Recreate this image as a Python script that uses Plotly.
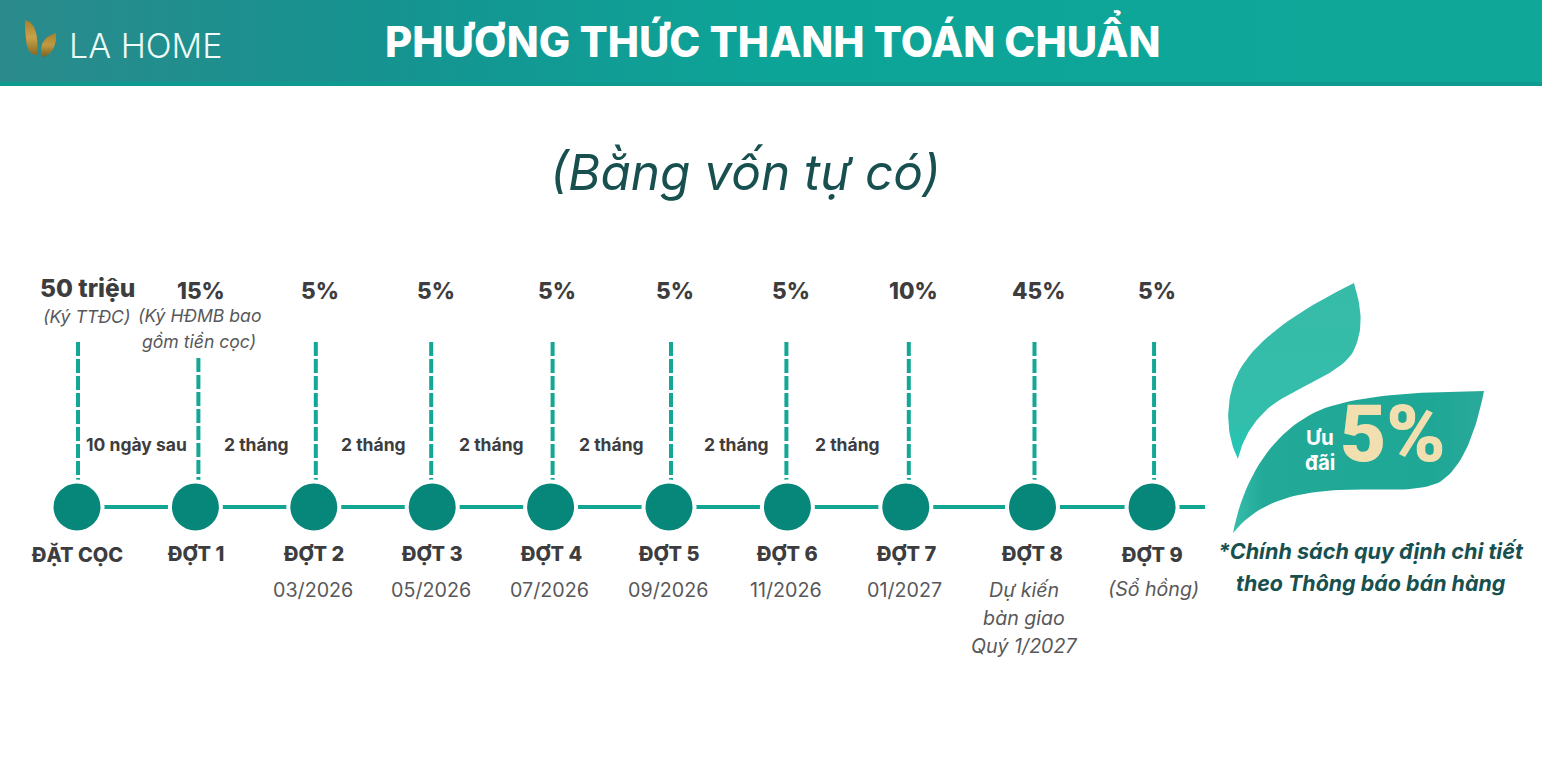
"""
Payment schedule timeline - LA HOME
"""

import plotly.graph_objects as go

# data
title = "PHƯƠNG THỨC THANH TOÁN CHUẨN"
subtitle = "(Bằng vốn tự có)"
stages = ["ĐẶT CỌC", "ĐỢT 1", "ĐỢT 2", "ĐỢT 3", "ĐỢT 4", "ĐỢT 5", "ĐỢT 6", "ĐỢT 7", "ĐỢT 8", "ĐỢT 9"]
amounts = ["50 triệu", "15%", "5%", "5%", "5%", "5%", "5%", "10%", "45%", "5%"]
notes = ["(Ký TTĐC)", "(Ký HĐMB bao<br>gồm tiền cọc)", "", "", "", "", "", "", "", ""]
gaps = ["10 ngày sau", "2 tháng", "2 tháng", "2 tháng", "2 tháng", "2 tháng", "2 tháng"]
dates = ["", "", "03/2026", "05/2026", "07/2026", "09/2026", "11/2026", "01/2027", "", ""]
later_notes = ["", "", "", "", "", "", "", "", "Dự kiến<br>bàn giao<br>Quý 1/2027", "(Sổ hồng)"]
# timeline slots, the last two are spaced a little wider
slots = [0, 1, 2, 3, 4, 5, 6, 7, 8.07, 9.08]

W, H = 1542, 772
STEP = 118.4
X0 = 77
TEAL = "#12a594"
DOT = "#07877a"
INK = "#3d3d3f"
SOFT = "#58585a"
DARK = "#17504f"

# small nudges in px, the source artwork is hand placed
amount_dx = [10, 6, 6, 4, 6, 6, 4, 8, 6, 5]
stem_dx = [1, 3, 2, -1, 2, 2, -1, 3, 2, 2]
stage_dx = [0, 0, 0, 0, 0, 0, 0, 0, 0, 0]
gap_dx = [0, 2, 0, 0, 2, 8, 1]


def bez(p0, c1, c2, p1, n=24):
    pts = []
    for i in range(n + 1):
        t = i / n
        u = 1 - t
        pts.append((u**3 * p0[0] + 3 * u * u * t * c1[0] + 3 * u * t * t * c2[0] + t**3 * p1[0],
                    u**3 * p0[1] + 3 * u * u * t * c1[1] + 3 * u * t * t * c2[1] + t**3 * p1[1]))
    return pts


def blob(curves):
    pts = []
    for c in curves:
        pts += bez(*c)
    return [p[0] for p in pts], [p[1] for p in pts]


def deco(xs, ys, stops, kind="horizontal"):
    return go.Scatter(x=xs, y=ys, xaxis="x2", yaxis="y", mode="lines", fill="toself",
                      line=dict(width=0), hoverinfo="skip", showlegend=False,
                      fillgradient=dict(type=kind, colorscale=stops))


fig = go.Figure()

# header band
fig.add_trace(deco([0, W, W, 0, 0], [0, 0, 85, 85, 0],
                   [[0, "#2b8a8c"], [0.25, "#159390"], [0.5, "#0da498"], [1, "#0fa898"]]))
fig.add_shape(type="rect", xref="paper", yref="y", x0=0, x1=1, y0=82, y1=86,
              fillcolor="#0e9a8e", line_width=0, layer="above")

# logo leaves
lx, ly = blob([((25, 20), (34, 22), (39, 32), (37, 55)), ((37, 55), (30, 55), (25, 52), (25, 20))])
fig.add_trace(deco(lx, ly, [[0, "#8a6a22"], [0.5, "#c9a24a"], [1, "#a67f2c"]], "vertical"))
lx, ly = blob([((56, 33), (57, 42), (54, 55), (42, 57)), ((42, 57), (40, 48), (40, 38), (56, 33))])
fig.add_trace(deco(lx, ly, [[0, "#7d5f1e"], [0.5, "#c19a42"], [1, "#a67f2c"]], "vertical"))

# big leaves on the right
lx, ly = blob([((1354, 283), (1363, 312), (1363, 332), (1353, 352)),
               ((1353, 352), (1340, 374), (1300, 385), (1272, 405)),
               ((1272, 405), (1254, 420), (1243, 437), (1238, 459)),
               ((1238, 459), (1228, 440), (1224, 410), (1234, 382)),
               ((1234, 382), (1250, 338), (1310, 305), (1354, 283))])
fig.add_trace(deco(lx, ly, [[0, "#20c8b8"], [0.22, "#32beab"], [1, "#37bba8"]], "vertical"))
lx, ly = blob([((1484, 391), (1430, 392), (1370, 393), (1325, 408)),
               ((1325, 408), (1280, 425), (1245, 470), (1233, 533)),
               ((1233, 533), (1255, 505), (1290, 492), (1340, 490)),
               ((1340, 490), (1375, 488), (1410, 494), (1438, 483)),
               ((1438, 483), (1462, 470), (1476, 432), (1484, 391))])
fig.add_trace(deco(lx, ly, [[0, "#38bdab"], [0.12, "#22a997"], [0.8, "#1fa795"], [1, "#2aa99b"]]))

# payment stems
for i, s in enumerate(slots):
    fig.add_trace(go.Scatter(x=[s + stem_dx[i] / STEP] * 2, y=[358 if i == 1 else 342, 482], mode="lines",
                             line=dict(color="#14a795", width=4, dash="14px,3px"),
                             hoverinfo="skip", showlegend=False))

# main line with a tail past the last payment
fig.add_trace(go.Scatter(x=slots + [slots[-1] + 53 / STEP], y=[507] * (len(slots) + 1), mode="lines",
                         line=dict(color=TEAL, width=4), hoverinfo="skip", showlegend=False))
fig.add_trace(go.Scatter(x=slots, y=[507] * len(slots), mode="markers",
                         marker=dict(size=55, color="white"), hoverinfo="skip", showlegend=False))
fig.add_trace(go.Scatter(x=slots, y=[507] * len(slots), mode="markers", text=stages,
                         marker=dict(size=47, color=DOT), hoverinfo="text", showlegend=False))


def label(x, y, text, size, color, weight=400, italic=False, xshift=0, xref="x", family="Inter"):
    font = dict(family=family, size=size, color=color, weight=weight)
    if italic:
        font["style"] = "italic"
    fig.add_annotation(x=x, y=y, xref=xref, yref="y", text=text, showarrow=False, font=font,
                       xshift=xshift, xanchor="center", yanchor="middle", align="center")


def lines(x, y, text, step, *args, **kwargs):
    # plotly's own line height is too tight here, so each line gets its own label
    for k, part in enumerate(text.split("<br>")):
        label(x, y + k * step, part, *args, **kwargs)


for i, s in enumerate(slots):
    label(s, 288 if i == 0 else 290, amounts[i], 24.5 if i == 0 else 22.5, INK, 800, xshift=amount_dx[i])
    label(s, 555 if i == 9 else 554, stages[i], 20, INK, 800, xshift=stage_dx[i])
    if notes[i]:
        lines(s, 316 if i == 0 else 315, notes[i], 26, 17.6, SOFT, italic=True, xshift=9 if i == 0 else 4)
    if dates[i]:
        label(s, 590, dates[i], 19.7, SOFT, xshift=-1)
    if later_notes[i]:
        lines(s, 590 if i == 8 else 589, later_notes[i], 28, 19.6, SOFT, italic=True, xshift=-8 if i == 8 else 1)

for i, g in enumerate(gaps):
    label((slots[i] + slots[i + 1]) / 2, 444, g, 17.5, INK, 700, xshift=gap_dx[i])

# header and subtitle
label(772 / W, 38, title, 41.8, "white", 800, xref="paper")
label(145 / W, 45, "LA HOME", 34, "#eefbf8", 300, xref="paper")
label(745 / W, 172, subtitle, 49.5, DARK, 400, italic=True, xref="paper")

# promo leaf text and footnote
label(1320 / W, 437, "Ưu", 20.5, "white", 700, xref="paper")
label(1320 / W, 462, "đãi", 20.5, "white", 700, xref="paper")
label(1393 / W, 434, "5%", 80, "#f1dfb0", 900, xref="paper", family="Roboto")
label(1371 / W, 551, "*Chính sách quy định chi tiết", 21.6, DARK, 700, italic=True, xref="paper")
label(1371 / W, 583, "theo Thông báo bán hàng", 21.4, DARK, 700, italic=True, xref="paper")

fig.update_layout(
    width=W, height=H, margin=dict(l=0, r=0, t=0, b=0),
    paper_bgcolor="white", plot_bgcolor="white", showlegend=False,
    xaxis=dict(range=[-X0 / STEP, (W - X0) / STEP], visible=False, fixedrange=True),
    xaxis2=dict(range=[0, W], visible=False, overlaying="x", fixedrange=True),
    yaxis=dict(range=[H, 0], visible=False, fixedrange=True),
)

fig.write_html("out.html", config=dict(displayModeBar=False), post_script="document.body.style.margin='0';")
